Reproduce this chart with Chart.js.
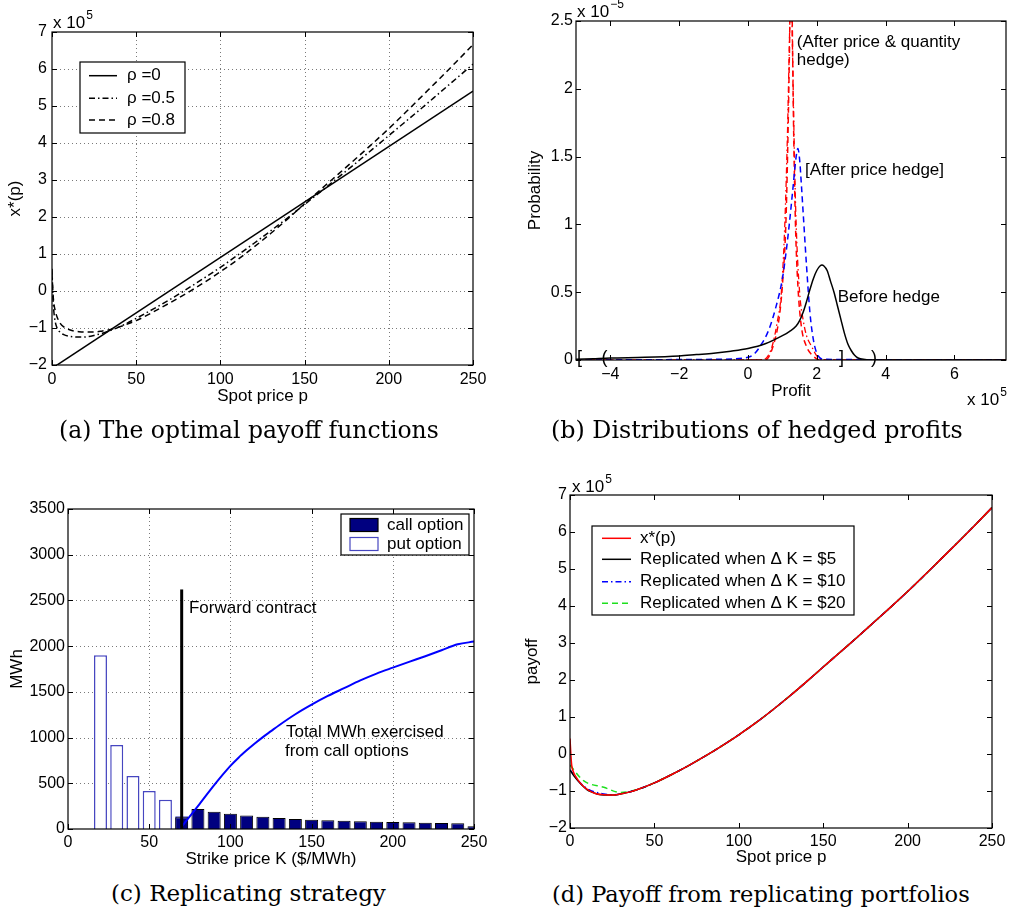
<!DOCTYPE html>
<html><head><meta charset="utf-8">
<script src="https://cdn.jsdelivr.net/npm/chart.js@4/dist/chart.umd.min.js"></script>
<style>
html,body{margin:0;padding:0;background:#fff;}
body{width:1010px;height:917px;position:relative;overflow:hidden;}
.pan{position:absolute;width:505px;height:420px;}
.cap{position:absolute;font-family:'DejaVu Serif',serif;white-space:nowrap;color:#000;}
</style></head><body>
<div class="pan" style="left:0;top:0"><canvas id="ca" width="505" height="420"></canvas></div>
<div class="pan" style="left:505px;top:0"><canvas id="cb" width="505" height="420"></canvas></div>
<div class="pan" style="left:0;top:460px"><canvas id="cc" width="505" height="420"></canvas></div>
<div class="pan" style="left:505px;top:460px"><canvas id="cd" width="505" height="420"></canvas></div>
<script>
const FONT = "'Liberation Sans', Arial, Helvetica, sans-serif";

// ---------- (a) optimal payoff functions ----------
const aRho0P = [0, 250];
const aRho0 = [-2.09, 5.40];
const aP = [0,0.5,1,2,3,5,7,10,13,16,20,25,30,35,40,50,60,70,80,90,100,110,120,130,140,150,160,170,180,190,200,210,220,230,240,250];
const aRho05 = [0.6,-0.1,-0.5,-0.85,-1.0,-1.12,-1.18,-1.22,-1.24,-1.245,-1.24,-1.2,-1.14,-1.06,-0.97,-0.74,-0.49,-0.23,0.05,0.34,0.64,0.96,1.29,1.63,1.98,2.34,2.7,3.07,3.44,3.82,4.2,4.58,4.96,5.35,5.74,6.13];
const aRho08 = [0.45,0.0,-0.3,-0.55,-0.7,-0.88,-0.97,-1.04,-1.08,-1.1,-1.11,-1.11,-1.08,-1.04,-0.97,-0.8,-0.57,-0.32,-0.06,0.22,0.52,0.84,1.19,1.56,1.95,2.36,2.76,3.16,3.56,3.97,4.39,4.83,5.28,5.73,6.19,6.66];
const aXTicks = [0,50,100,150,200,250];
const aYTicks = [-2,-1,0,1,2,3,4,5,6,7];

// ---------- (b) distributions of hedged profits (x in 1e5, y in 1e-5) ----------
const bBeforeX = [-5,-4.5,-4,-3,-2,-1.5,-1,-0.5,0,0.5,1.0,1.2,1.4,1.5,1.6,1.7,1.8,1.9,2.0,2.1,2.15,2.2,2.3,2.4,2.5,2.6,2.7,2.8,2.9,3.0,3.1,3.2,3.4,3.6,4,7.5];
const bBeforeY = [0.005,0.01,0.015,0.02,0.03,0.04,0.05,0.065,0.085,0.12,0.18,0.21,0.25,0.29,0.35,0.43,0.52,0.6,0.66,0.695,0.7,0.695,0.66,0.58,0.5,0.4,0.3,0.2,0.12,0.07,0.035,0.015,0.004,0,0,0];
const bPriceX = [-5,-1,0,0.2,0.4,0.6,0.8,1.0,1.1,1.2,1.3,1.4,1.45,1.5,1.55,1.6,1.7,1.8,1.9,2.0,2.2,7.5];
const bPriceY = [0,0.005,0.02,0.05,0.12,0.22,0.38,0.6,0.78,1.0,1.25,1.5,1.56,1.48,1.3,1.1,0.7,0.35,0.15,0.05,0.005,0];
const bPQDashX = [-5,0.5,0.7,0.9,1.0,1.1,1.15,1.2,1.23,1.25,1.28,1.32,1.38,1.45,1.55,1.7,1.85,2.1,7.5];
const bPQDashY = [0,0,0.08,0.3,0.55,1.0,1.5,2.2,2.7,2.9,2.6,1.8,1.0,0.55,0.25,0.1,0.04,0,0];
const bPQDotX = [-5,0.4,0.55,0.7,0.85,0.97,1.07,1.15,1.2,1.25,1.3,1.35,1.4,1.5,1.6,1.7,1.85,2.0,2.2,7.5];
const bPQDotY = [0,0,0.02,0.1,0.28,0.5,1.0,1.7,2.3,2.8,2.2,1.5,1.0,0.5,0.3,0.18,0.1,0.03,0,0];
const bXTicks = [-4,-2,0,2,4,6];
const bYTicks = [0,0.5,1,1.5,2,2.5];

// ---------- (c) replicating strategy ----------
const cPutK = [20,30,40,50,60,70];
const cPutMWh = [1900,920,580,415,320,140];
const cCallK = [70,80,90,100,110,120,130,140,150,160,170,180,190,200,210,220,230,240,250];
const cCallMWh = [128,219,190,168,149,135,120,109,102,95,91,84,80,77,73,69,66,62,30];
const cForwardK = [70,70];
const cForwardMWh = [0,2620];
const cTotalK = [69,70,80,90,100,105,110,115,120,125,130,140,150,160,170,180,190,200,210,220,230,240,250];
const cTotalMWh = [0,25,250,480,690,780,860,935,1005,1070,1135,1255,1360,1455,1540,1625,1700,1765,1828,1890,1955,2020,2050];
const cXTicks = [0,50,100,150,200,250];
const cYTicks = [0,500,1000,1500,2000,2500,3000,3500];

// ---------- (d) payoff from replicating portfolios ----------
const dP = [0,0.5,1,2,3,5,7,10,13,16,20,25,30,35,40,50,60,70,80,90,100,110,120,130,140,150,160,170,180,190,200,210,220,230,240,250];
const dXstar = [0.42,0.0,-0.3,-0.48,-0.58,-0.72,-0.83,-0.95,-1.03,-1.08,-1.1,-1.11,-1.08,-1.03,-0.96,-0.78,-0.56,-0.32,-0.06,0.22,0.52,0.84,1.19,1.56,1.95,2.35,2.75,3.15,3.56,3.97,4.39,4.83,5.28,5.73,6.19,6.66];
const dRep5P = [0,1,2,3,5,7,10,13,16,20,25,30,35,40,50,60,70,80,90,100,110,120,130,140,150,160,170,180,190,200,210,220,230,240,250];
const dRep5 = [-0.43,-0.5,-0.57,-0.63,-0.74,-0.84,-0.96,-1.03,-1.08,-1.11,-1.11,-1.08,-1.03,-0.96,-0.78,-0.56,-0.32,-0.06,0.22,0.52,0.84,1.19,1.56,1.95,2.35,2.75,3.15,3.56,3.97,4.39,4.83,5.28,5.73,6.19,6.66];
const dRep10P = [0,2,5,10,15,20,25,30,40,50,60,70,80,90,100,110,120,130,140,150,160,170,180,190,200,210,220,230,240,250];
const dRep10 = [-0.43,-0.55,-0.73,-0.93,-1.03,-1.08,-1.1,-1.08,-0.96,-0.78,-0.56,-0.32,-0.06,0.22,0.52,0.84,1.19,1.56,1.95,2.35,2.75,3.15,3.56,3.97,4.39,4.83,5.28,5.73,6.19,6.66];
const dRep20P = [0,8,20,30,40,50,60,70,80,90,100,110,120,130,140,150,160,170,180,190,200,210,220,230,240,250];
const dRep20 = [-0.3,-0.72,-0.9,-1.04,-0.96,-0.78,-0.56,-0.32,-0.06,0.22,0.52,0.84,1.19,1.56,1.95,2.35,2.75,3.15,3.56,3.97,4.39,4.83,5.28,5.73,6.19,6.66];
const dXTicks = [0,50,100,150,200,250];
const dYTicks = [-2,-1,0,1,2,3,4,5,6,7];

// ---------- helpers ----------
const pts = (xs, ys) => xs.map((x, i) => ({x: x, y: ys[i]}));
const fmt = v => String(v).replace('-', '\u2212');

function axis(min, max, ticks, title, o) {
  return {
    type: 'linear', min: min, max: max, offset: false,
    afterBuildTicks: s => { s.ticks = ticks.map(v => ({value: v})); },
    afterFit: s => { if (s.isHorizontal()) s.height = o.size; else s.width = o.size; },
    grid: {display: false, drawTicks: false},
    border: {display: false},
    ticks: {font: {family: FONT, size: 16}, color: '#000', padding: o.pad, maxRotation: 0, autoSkip: false,
            callback: v => fmt(v)},
    title: {display: true, text: title, font: {family: FONT, size: 17}, color: '#000',
            padding: o.tpad}
  };
}

function lineDs(data, color, width, dash, order, straight) {
  return {type: 'scatter', data: data, showLine: true, borderColor: color, backgroundColor: color,
          borderWidth: width, borderDash: dash || [], pointRadius: 0, clip: 0,
          cubicInterpolationMode: straight ? 'default' : 'monotone', tension: 0,
          order: order || 0};
}

const DASH = [6, 4];
const DASHDOT = [6, 3, 1.5, 3];

const matlab = {
  id: 'matlab',
  beforeDatasetsDraw(chart, args, o) {
    const {ctx, chartArea: a, scales: {x, y}} = chart;
    if (o.grid) {
      ctx.save();
      ctx.strokeStyle = '#7a7a7a'; ctx.lineWidth = 1; ctx.setLineDash([1, 3]);
      x.ticks.forEach(t => {
        const px = Math.round(x.getPixelForValue(t.value)) + 0.5;
        if (px <= a.left + 2 || px >= a.right - 2) return;
        ctx.beginPath(); ctx.moveTo(px, a.top); ctx.lineTo(px, a.bottom); ctx.stroke();
      });
      y.ticks.forEach(t => {
        const py = Math.round(y.getPixelForValue(t.value)) + 0.5;
        if (py <= a.top + 2 || py >= a.bottom - 2) return;
        ctx.beginPath(); ctx.moveTo(a.left, py); ctx.lineTo(a.right, py); ctx.stroke();
      });
      ctx.restore();
    }
  },
  afterDatasetsDraw(chart, args, o) {
    const {ctx, chartArea: a, scales: {x, y}} = chart;
    ctx.save();
    ctx.setLineDash([]);
    ctx.strokeStyle = '#000'; ctx.lineWidth = 1.2;
    ctx.strokeRect(a.left, a.top, a.right - a.left, a.bottom - a.top);
    ctx.lineWidth = 1;
    const TL = 5;
    x.ticks.forEach(t => {
      const px = Math.round(x.getPixelForValue(t.value)) + 0.5;
      ctx.beginPath();
      ctx.moveTo(px, a.bottom); ctx.lineTo(px, a.bottom - TL);
      ctx.moveTo(px, a.top); ctx.lineTo(px, a.top + TL);
      ctx.stroke();
    });
    y.ticks.forEach(t => {
      const py = Math.round(y.getPixelForValue(t.value)) + 0.5;
      ctx.beginPath();
      ctx.moveTo(a.left, py); ctx.lineTo(a.left + TL, py);
      ctx.moveTo(a.right, py); ctx.lineTo(a.right - TL, py);
      ctx.stroke();
    });
    ctx.fillStyle = '#000';
    ctx.textBaseline = 'middle';
    (o.texts || []).forEach(t => {
      ctx.font = (t.size || 17) + 'px ' + FONT;
      ctx.textAlign = t.align || 'left';
      ctx.fillText(t.text, x.getPixelForValue(t.x), y.getPixelForValue(t.y));
    });
    (o.expo || []).forEach(e => {
      ctx.textAlign = 'left'; ctx.textBaseline = 'alphabetic';
      ctx.font = '17px ' + FONT;
      ctx.fillText('x 10', e.x, e.y);
      const w = ctx.measureText('x 10').width;
      ctx.font = '12px ' + FONT;
      ctx.fillText(e.exp, e.x + w + 1, e.y - 9);
    });
    if (o.legend) {
      const L = o.legend;
      ctx.fillStyle = '#fff';
      ctx.fillRect(L.box[0], L.box[1], L.box[2] - L.box[0], L.box[3] - L.box[1]);
      ctx.strokeStyle = '#000'; ctx.lineWidth = 1.2;
      ctx.strokeRect(L.box[0], L.box[1], L.box[2] - L.box[0], L.box[3] - L.box[1]);
      L.items.forEach(it => {
        if (it.rect) {
          ctx.fillStyle = it.fill; ctx.fillRect(L.sx1, it.y - 6.5, L.sx2 - L.sx1, 13);
          ctx.strokeStyle = it.stroke; ctx.lineWidth = 1.2; ctx.setLineDash([]);
          ctx.strokeRect(L.sx1, it.y - 6.5, L.sx2 - L.sx1, 13);
        } else {
          ctx.strokeStyle = it.color; ctx.lineWidth = it.width || 1.5; ctx.setLineDash(it.dash || []);
          ctx.beginPath(); ctx.moveTo(L.sx1, it.y); ctx.lineTo(L.sx2, it.y); ctx.stroke();
          ctx.setLineDash([]);
        }
        ctx.fillStyle = '#000'; ctx.font = '17px ' + FONT; ctx.textAlign = 'left'; ctx.textBaseline = 'middle';
        ctx.fillText(it.text, L.tx, it.y);
      });
    }
    ctx.restore();
  }
};

const baseOpts = (pad, xs, ys, mat) => ({
  responsive: false, animation: false, devicePixelRatio: 1,
  layout: {padding: pad},
  scales: {x: xs, y: ys},
  plugins: {legend: {display: false}, tooltip: {enabled: false}, matlab: mat}
});

// ---------- chart (a) ----------
new Chart(document.getElementById('ca'), {
  type: 'scatter',
  data: {datasets: [
    lineDs(pts(aRho0P, aRho0), '#000', 1.5, [], 0, true),
    lineDs(pts(aP, aRho05), '#000', 1.5, DASHDOT),
    lineDs(pts(aP, aRho08), '#000', 1.5, DASH)
  ]},
  options: baseOpts({left: 0, top: 32, right: 32, bottom: 13.5},
    axis(0, 250, aXTicks, 'Spot price p', {size: 41.5, pad: 4.5, tpad: {top: 0, bottom: 0}}),
    axis(-2, 7, aYTicks, 'x*(p)', {size: 52, pad: 5, tpad: {top: 5, bottom: 0}}),
    {grid: true,
     expo: [{x: 53, y: 28, exp: '5'}],
     legend: {box: [80, 62, 185, 133], sx1: 89, sx2: 117, tx: 127, items: [
       {y: 75.7, color: '#000', text: '\u03c1 =0'},
       {y: 98.3, color: '#000', dash: DASHDOT, text: '\u03c1 =0.5'},
       {y: 120, color: '#000', dash: DASH, text: '\u03c1 =0.8'}
     ]}})
  ,plugins: [matlab]
});

// ---------- chart (b) ----------
new Chart(document.getElementById('cb'), {
  type: 'scatter',
  data: {datasets: [
    lineDs(pts(bBeforeX, bBeforeY), '#000', 1.5),
    lineDs(pts(bPriceX, bPriceY), '#0000ff', 1.5, DASH),
    lineDs(pts(bPQDotX, bPQDotY), '#ff0000', 1.3, DASHDOT),
    lineDs(pts(bPQDashX, bPQDashY), '#ff0000', 1.5, DASH)
  ]},
  options: baseOpts({left: 0, top: 21, right: 4, bottom: 18.8},
    axis(-5, 7.5, bXTicks, 'Profit', {size: 41.2, pad: 4.5, tpad: {top: 0, bottom: 0}}),
    axis(0, 2.5, bYTicks, 'Probability', {size: 71, pad: 3, tpad: {top: 20, bottom: 0}}),
    {grid: false,
     expo: [{x: 72, y: 17, exp: '\u22125'}, {x: 462, y: 405, exp: '5'}],
     texts: [
       {x: 1.42, y: 2.345, text: '(After price & quantity'},
       {x: 1.42, y: 2.207, text: 'hedge)'},
       {x: 1.66, y: 1.40, text: '[After price hedge]'},
       {x: 2.61, y: 0.46, text: 'Before hedge'},
       {x: -4.9, y: 0.012, text: '[', align: 'center', size: 18},
       {x: -4.17, y: 0.012, text: '(', align: 'center', size: 18},
       {x: 2.72, y: 0.012, text: ']', align: 'center', size: 18},
       {x: 3.66, y: 0.012, text: ')', align: 'center', size: 18}
     ]})
  ,plugins: [matlab]
});

// ---------- chart (c) ----------
new Chart(document.getElementById('cc'), {
  type: 'bar',
  data: {datasets: [
    lineDs(pts(cForwardK, cForwardMWh), '#000', 3, [], 0, true),
    lineDs(pts(cTotalK, cTotalMWh), '#0000ff', 2, [], 0),
    {type: 'bar', data: pts(cCallK, cCallMWh), backgroundColor: '#000080', borderColor: '#000', borderWidth: 1,
     grouped: false, barPercentage: 0.8, categoryPercentage: 1, clip: 0, order: 1},
    {type: 'bar', data: pts(cPutK, cPutMWh), backgroundColor: '#ffffff', borderColor: '#4646c0', borderWidth: 1.5,
     grouped: false, barPercentage: 0.8, categoryPercentage: 1, clip: 0, order: 2}
  ]},
  options: baseOpts({left: 0, top: 49, right: 31, bottom: 10.3},
    axis(0, 250, cXTicks, 'Strike price K ($/MWh)', {size: 40.7, pad: 4, tpad: {top: 0, bottom: 0}}),
    axis(0, 3500, cYTicks, 'MWh', {size: 68, pad: 3, tpad: {top: 7, bottom: 0}}),
    {grid: true,
     texts: [
       {x: 74.5, y: 2414, text: 'Forward contract'},
       {x: 134.2, y: 1053, text: 'Total MWh exercised'},
       {x: 133.6, y: 845, text: 'from call options'}
     ],
     legend: {box: [341, 54, 469, 95], sx1: 350, sx2: 378, tx: 387, items: [
       {rect: true, y: 65, fill: '#000080', stroke: '#000', text: 'call option'},
       {rect: true, y: 84, fill: '#fff', stroke: '#4646c0', text: 'put option'}
     ]}})
  ,plugins: [matlab]
});

// ---------- chart (d) ----------
new Chart(document.getElementById('cd'), {
  type: 'scatter',
  data: {datasets: [
    lineDs(pts(dRep20P, dRep20), '#1ee01e', 1.5, DASH),
    lineDs(pts(dRep10P, dRep10), '#0000ff', 1.5, DASHDOT),
    lineDs(pts(dRep5P, dRep5), '#000', 1.5),
    lineDs(pts(dP, dXstar), '#ff0000', 1.5)
  ].reverse()},
  options: baseOpts({left: 0, top: 35, right: 18, bottom: 12.1},
    axis(0, 250, dXTicks, 'Spot price p', {size: 39.9, pad: 4, tpad: {top: 0, bottom: 0}}),
    axis(-2, 7, dYTicks, 'payoff', {size: 65, pad: 3, tpad: {top: 17, bottom: 0}}),
    {grid: false,
     expo: [{x: 67, y: 32, exp: '5'}],
     legend: {box: [87, 66, 349, 155], sx1: 97, sx2: 126, tx: 135, items: [
       {y: 78.3, color: '#ff0000', text: 'x*(p)'},
       {y: 99.3, color: '#000', text: 'Replicated when \u0394 K = $5'},
       {y: 121.7, color: '#0000ff', dash: DASHDOT, text: 'Replicated when \u0394 K = $10'},
       {y: 143.3, color: '#1ee01e', dash: DASH, text: 'Replicated when \u0394 K = $20'}
     ]}})
  ,plugins: [matlab]
});

// ---------- captions ----------
const caps = [
  {t: '(a) The optimal payoff functions', cx: 249, cy: 432, w: 380},
  {t: '(b) Distributions of hedged profits', cx: 757, cy: 432, w: 412},
  {t: '(c) Replicating strategy', cx: 248.5, cy: 895, w: 275},
  {t: '(d) Payoff from replicating portfolios', cx: 761, cy: 895, w: 418}
];
const mctx = document.createElement('canvas').getContext('2d');
caps.forEach(c => {
  mctx.font = "20px 'DejaVu Serif'";
  const w = mctx.measureText(c.t).width;
  const fs = 20 * c.w / w;
  const d = document.createElement('div');
  d.className = 'cap'; d.textContent = c.t;
  d.style.fontSize = fs + 'px'; d.style.lineHeight = fs + 'px';
  d.style.left = (c.cx - c.w / 2) + 'px'; d.style.top = (c.cy - fs * 0.55) + 'px';
  document.body.appendChild(d);
});
</script>
</body></html>
